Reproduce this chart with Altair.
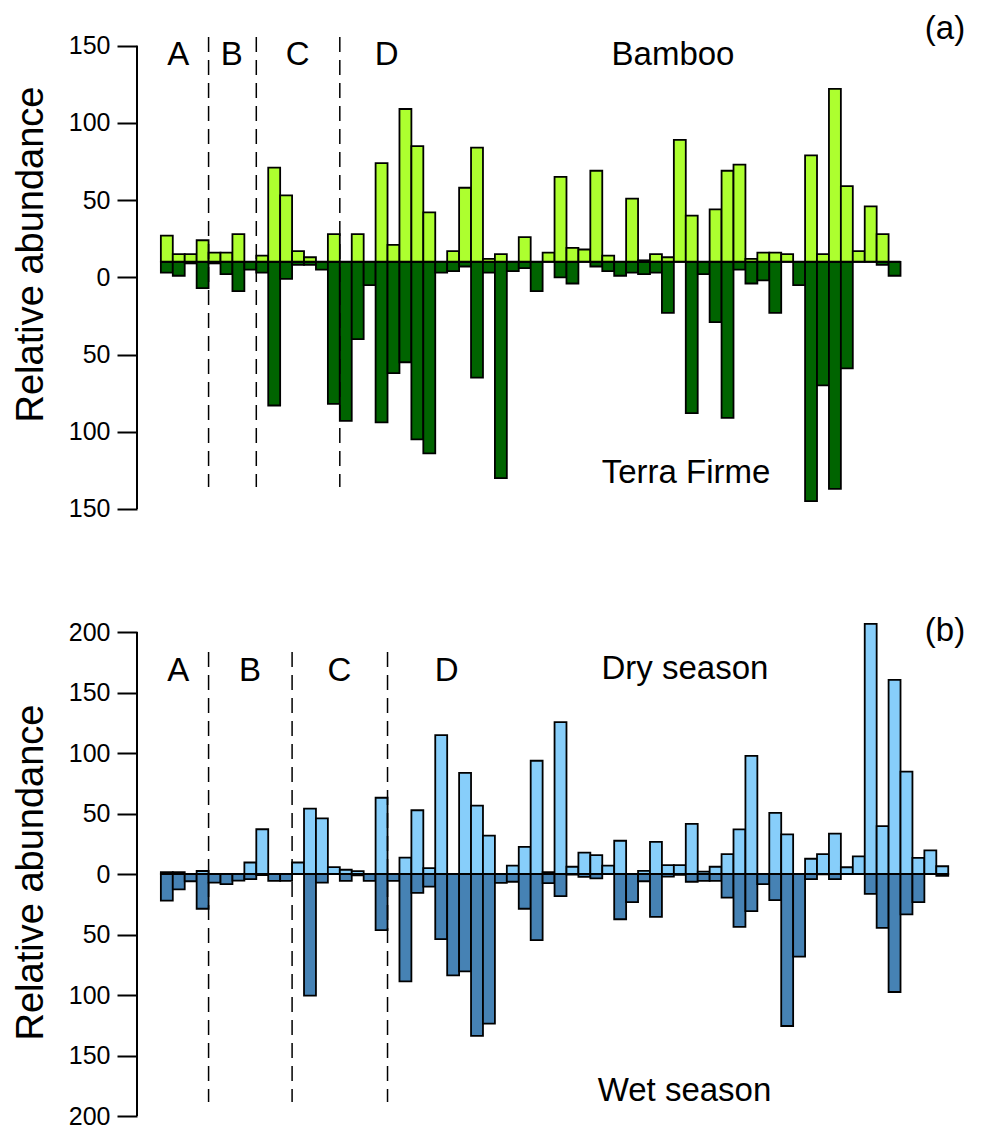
import altair as alt
import pandas as pd

FONT = "Liberation Sans"

# ---- Panel (a): Bamboo (up) vs Terra Firme (down), bar lengths from the baseline
bamboo = [17, 5, 5, 14, 6, 6, 18, 0, 4, 61,
          43, 7, 3, 0, 18, 0, 18, 0, 64, 11,
          99, 75, 32, 0, 7, 48, 74, 2, 5, 0,
          16, 0, 6, 55, 9, 8, 59, 4, 0, 41,
          1, 5, 3, 79, 30, 0, 34, 59, 63, 2,
          6, 6, 5, 0, 69, 5, 112, 49, 7, 36,
          18, 0]
terra_firme = [7, 9, 1, 17, 1, 8, 19, 5, 7, 93,
               11, 2, 2, 5, 92, 103, 50, 15, 104, 72,
               65, 115, 124, 7, 6, 3, 75, 7, 140, 6,
               4, 19, 0, 10, 14, 0, 3, 6, 9, 7,
               8, 7, 33, 0, 98, 8, 39, 101, 5, 14,
               12, 33, 0, 15, 155, 80, 147, 69, 0, 0,
               2, 9]

# ---- Panel (b): Dry season (up) vs Wet season (down)
dry_season = [1.5, 1.5, 0, 2.5, 0, 0, 0, 9.5, 37, 0,
              0, 9.5, 54, 46, 5.7, 3.5, 2.3, 0, 63, 0,
              13.5, 52.7, 4.9, 114.7, 0, 83.5, 56.5, 31.8, 0, 7,
              22.4, 93.6, 1.5, 125.6, 6, 17.7, 15.6, 7, 27.5, 0,
              2.6, 26.6, 7.4, 7.4, 41.5, 2, 6, 16.4, 36.9, 97.7,
              0, 50.5, 32.8, 0, 12.6, 16.4, 33.3, 5.6, 14.5, 206.7,
              39.6, 160.5, 84.6, 13.3, 19.5, 6.4]
wet_season = [22, 12.7, 6, 28.7, 7.2, 8.4, 5.4, 4.2, 1, 5.6,
              5.6, 0, 100.5, 7.2, 0, 5.6, 1.2, 5.6, 46.4, 5.6,
              88.7, 15.6, 10.4, 53.8, 83.8, 80.5, 133.8, 123.7, 7.4, 6.4,
              28.7, 54.6, 7.6, 18.3, 0.5, 2.3, 3.6, 0, 37.4, 23.3,
              6, 35.5, 2.1, 0.7, 6.4, 5.6, 5.6, 19.6, 43.7, 30.6,
              8.4, 21.6, 125.6, 68.3, 4.2, 0.3, 4.2, 0, 0, 16.4,
              44.5, 97.5, 33.3, 23.2, 0, 1.6]

bounds_a = [4, 8, 15]
bounds_b = [4, 11, 19]
ticks_a = [-150, -100, -50, 0, 50, 100, 150]
ticks_b = [-200, -150, -100, -50, 0, 50, 100, 150, 200]

W = 820
XDOM = [-2, -2 + W / 11.93]


def yenc(ymin, ymax, ticks, title_y):
    return alt.Y(
        "y:Q",
        scale=alt.Scale(domain=[ymin, ymax], nice=False, zero=False),
        axis=alt.Axis(
            values=ticks, labelExpr="abs(datum.value)", domain=False, grid=False,
            tickSize=20, tickWidth=2, tickColor="black",
            labelFontSize=25, labelFont=FONT, labelColor="black", labelPadding=7,
            title="Relative abundance", titleFontSize=38, titleFont=FONT,
            titleFontWeight="normal", titleColor="black",
            titleX=-95, titleY=title_y, titleBaseline="alphabetic",
            titleAngle=270, titleAlign="center",
        ),
    )


def xenc(field="x"):
    return alt.X(f"{field}:Q", scale=alt.Scale(domain=XDOM, nice=False, zero=False), axis=None)


def panel(up, down, base, c_up, c_down, bounds, dash, texts, ydom, height, ticks, title_y):
    n = len(up)
    Y = yenc(ydom[0], ydom[1], ticks, title_y)
    up_df = pd.DataFrame({"x": list(range(n)), "x2": [i + 1 for i in range(n)],
                          "y": [base] * n, "y2": [base + v for v in up]})
    up_df = up_df[[v > 0 for v in up]]
    dn_df = pd.DataFrame({"x": list(range(n)), "x2": [i + 1 for i in range(n)],
                          "y": [base] * n, "y2": [base - v for v in down]})
    dn_df = dn_df[[v > 0 for v in down]]

    dark = alt.Chart(dn_df).mark_rect(fill=c_down, stroke="black", strokeWidth=1.8).encode(
        x=xenc(), x2="x2:Q", y=Y, y2="y2:Q")
    light = alt.Chart(up_df).mark_rect(fill=c_up, stroke="black", strokeWidth=1.8).encode(
        x=xenc(), x2="x2:Q", y=Y, y2="y2:Q")
    baseline = alt.Chart(pd.DataFrame({"x": [0], "x2": [n], "y": [base]})).mark_rule(
        color="black", strokeWidth=2).encode(x=xenc(), x2="x2:Q", y=Y)
    dashes = alt.Chart(pd.DataFrame({"x": bounds, "y": [dash[0]] * 3, "y2": [dash[1]] * 3})).mark_rule(
        color="black", strokeWidth=1.5, strokeDash=[15, 8]).encode(x=xenc(), y=Y, y2="y2:Q")
    axis_line = alt.Chart(pd.DataFrame({"x": [XDOM[0]], "y": [ticks[0]], "y2": [ticks[-1]]})).mark_rule(
        color="black", strokeWidth=2).encode(x=xenc(), y=Y, y2="y2:Q")
    txt = alt.Chart(pd.DataFrame(texts, columns=["x", "y", "label"])).mark_text(
        align="center", baseline="alphabetic", fontSize=33, font=FONT, color="black").encode(
        x=xenc(), y=Y, text="label:N")
    return alt.layer(dark, light, baseline, dashes, axis_line, txt).properties(width=W, height=height)


texts_a = [(1.46, 137.6, "A"), (5.94, 137.6, "B"), (11.47, 137.6, "C"), (18.93, 137.6, "D"),
           (42.93, 137.6, "Bamboo"), (44.02, -133.2, "Terra Firme"), (65.73, 154.3, "(a)")]
texts_b = [(1.46, 159.5, "A"), (7.47, 159.5, "B"), (14.96, 159.5, "C"), (23.96, 159.5, "D"),
           (43.93, 161.2, "Dry season"), (43.89, -187.6, "Wet season"), (65.73, 192.6, "(b)")]

pa = panel(bamboo, terra_firme, 10, "#ADFF2F", "#006400", bounds_a, (155.6, -135.8),
           texts_a, (-160.4, 174.4), 517, ticks_a, 246)
pb = panel(dry_season, wet_season, 0, "#87CEFA", "#4682B4", bounds_b, (183.5, -188.4),
           texts_b, (-203.3, 271.9), 575, ticks_b, 327)

chart = alt.vconcat(pa, pb, spacing=20).properties(
    padding={"left": 4, "top": 0, "right": 0, "bottom": 0},
    background="white",
).configure_view(strokeWidth=0)

chart.save("out.html", embed_options={"renderer": "svg", "actions": False})
